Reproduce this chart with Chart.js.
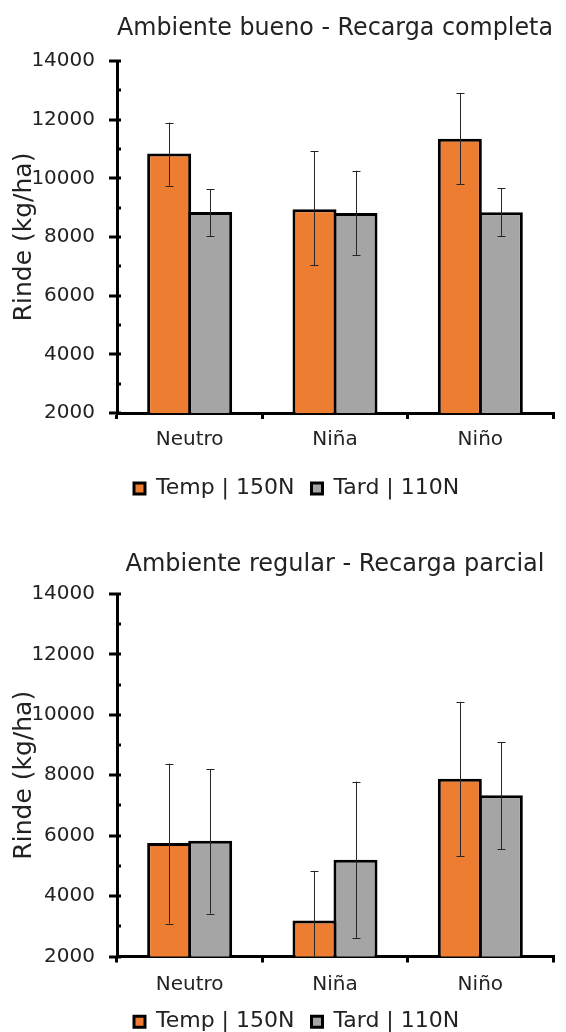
<!DOCTYPE html>
<html>
<head>
<meta charset="utf-8">
<script src="https://cdn.jsdelivr.net/npm/chart.js@4/dist/chart.umd.min.js"></script>
<style>
  html, body { margin: 0; padding: 0; background: #fff; overflow: hidden; }
  #c1 { position: absolute; left: 0; top: 0; }
  #c2 { position: absolute; left: 0; top: 516px; }
</style>
</head>
<body>
<canvas id="c1" width="566" height="516"></canvas>
<canvas id="c2" width="566" height="540"></canvas>
<script>
// ---- data ----
const categories = ['Neutro', 'Niña', 'Niño'];
const seriesNames = ['Temp | 150N', 'Tard | 110N'];
const yTicks = [2000, 4000, 6000, 8000, 10000, 12000, 14000];
const yAxisTitle = 'Rinde (kg/ha)';

const title1 = 'Ambiente bueno - Recarga completa';
const temp1 = [10850, 8950, 11350];
const temp1Lo = [9750, 7035, 9800];
const temp1Hi = [11900, 10920, 12910];
const tard1 = [8850, 8820, 8840];
const tard1Lo = [8035, 7375, 8035];
const tard1Hi = [9630, 10260, 9660];

const title2 = 'Ambiente regular - Recarga parcial';
const temp2 = [5755, 3190, 7885];
const temp2Lo = [3090, 1545, 5325];
const temp2Hi = [8385, 4835, 10430];
const tard2 = [5830, 5200, 7335];
const tard2Lo = [3420, 2615, 5555];
const tard2Hi = [8210, 7790, 9105];

// ---- styles ----
const FONT = 'DejaVu Sans';
const TXT = '#222222';
const ORANGE = '#ED7D31';
const GRAY = '#A5A5A5';

const errorBarsPlugin = {
  id: 'errorBars',
  afterDatasetsDraw(chart) {
    const ctx = chart.ctx;
    const y = chart.scales.y;
    const a = chart.chartArea;
    ctx.save();
    ctx.beginPath();
    ctx.rect(a.left, a.top - 20, a.right - a.left, a.bottom - a.top + 20);
    ctx.clip();
    ctx.strokeStyle = '#262626';
    ctx.lineWidth = 1;
    chart.data.datasets.forEach((ds, di) => {
      const meta = chart.getDatasetMeta(di);
      meta.data.forEach((bar, i) => {
        const x = Math.round(bar.x) + 0.5;
        const yl = y.getPixelForValue(ds.errLo[i]);
        const yh = y.getPixelForValue(ds.errHi[i]);
        ctx.beginPath();
        ctx.moveTo(x, yl); ctx.lineTo(x, yh);
        ctx.moveTo(x - 4, Math.round(yh) + 0.5); ctx.lineTo(x + 4, Math.round(yh) + 0.5);
        if (ds.errLo[i] >= y.min) {
          ctx.moveTo(x - 4, Math.round(yl) + 0.5); ctx.lineTo(x + 4, Math.round(yl) + 0.5);
        }
        ctx.stroke();
      });
    });
    ctx.restore();
  }
};

const axisDecorPlugin = {
  id: 'axisDecor',
  afterDraw(chart) {
    const ctx = chart.ctx;
    const y = chart.scales.y;
    const a = chart.chartArea;
    ctx.save();
    ctx.strokeStyle = '#000';
    ctx.lineWidth = 3;
    for (let v = y.min; v <= y.max; v += 1000) {
      const py = Math.round(y.getPixelForValue(v));
      const major = (v % 2000 === 0);
      ctx.beginPath();
      ctx.moveTo(a.left - (major ? 8 : 0), py);
      ctx.lineTo(a.left + 4, py);
      ctx.stroke();
    }
    // rotated y-axis title
    ctx.fillStyle = TXT;
    ctx.font = '25px "' + FONT + '"';
    ctx.textAlign = 'center';
    ctx.textBaseline = 'middle';
    ctx.translate(24, (a.top + a.bottom) / 2);
    ctx.rotate(-Math.PI / 2);
    ctx.fillText(yAxisTitle, 0, 0);
    ctx.restore();
  }
};

function makeChart(id, title, t, tLo, tHi, d, dLo, dHi, lay) {
  return new Chart(document.getElementById(id), {
    type: 'bar',
    data: {
      labels: categories,
      datasets: [
        { label: seriesNames[0], data: t, errLo: tLo, errHi: tHi,
          backgroundColor: ORANGE, borderColor: '#000', borderWidth: 3,
          borderSkipped: 'bottom', barPercentage: 1.073, categoryPercentage: 0.5643 },
        { label: seriesNames[1], data: d, errLo: dLo, errHi: dHi,
          backgroundColor: GRAY, borderColor: '#000', borderWidth: 3,
          borderSkipped: 'bottom', barPercentage: 1.073, categoryPercentage: 0.5643 }
      ]
    },
    options: {
      responsive: false,
      animation: false,
      devicePixelRatio: 1,
      layout: { padding: { left: 0, right: 13, top: 0, bottom: lay.padBottom } },
      plugins: {
        title: {
          display: true, text: title, fullSize: false, color: TXT,
          font: { family: FONT, size: 24, weight: 'normal' },
          padding: { top: lay.titleTop, bottom: lay.titleBottom }
        },
        legend: {
          display: true, position: 'bottom', fullSize: false, align: 'start',
          labels: {
            color: TXT, font: { family: FONT, size: 22 },
            boxWidth: 11, boxHeight: 11, padding: 17
          }
        },
        tooltip: { enabled: false }
      },
      scales: {
        x: {
          offset: true,
          grid: { display: true, offset: true, drawOnChartArea: false, drawTicks: true,
                  tickLength: 6, tickWidth: 3, tickColor: '#000', color: '#000', lineWidth: 3 },
          border: { display: true, color: '#000', width: 3 },
          ticks: { color: TXT, font: { family: FONT, size: 20 }, padding: lay.xPad },
          afterFit(s) { s.height = lay.xHeight; }
        },
        y: {
          min: yTicks[0], max: yTicks[yTicks.length - 1],
          afterBuildTicks(s) { s.ticks = yTicks.map(v => ({ value: v })); },
          grid: { display: false, drawTicks: false },
          border: { display: true, color: '#000', width: 3 },
          ticks: { color: TXT, font: { family: FONT, size: 20 }, padding: 22,
                   callback: v => String(v) },
          afterFit(s) { s.width = 117; }
        }
      }
    },
    plugins: [errorBarsPlugin, axisDecorPlugin]
  });
}

makeChart('c1', title1, temp1, temp1Lo, temp1Hi, tard1, tard1Lo, tard1Hi,
  { titleTop: 14.5, titleBottom: 17.7, xHeight: 47.5, xPad: 9, padBottom: 6.5 });
makeChart('c2', title2, temp2, temp2Lo, temp2Hi, tard2, tard2Lo, tard2Hi,
  { titleTop: 34, titleBottom: 15.2, xHeight: 37.2, xPad: 10.5, padBottom: 13.3 });
</script>
</body>
</html>
